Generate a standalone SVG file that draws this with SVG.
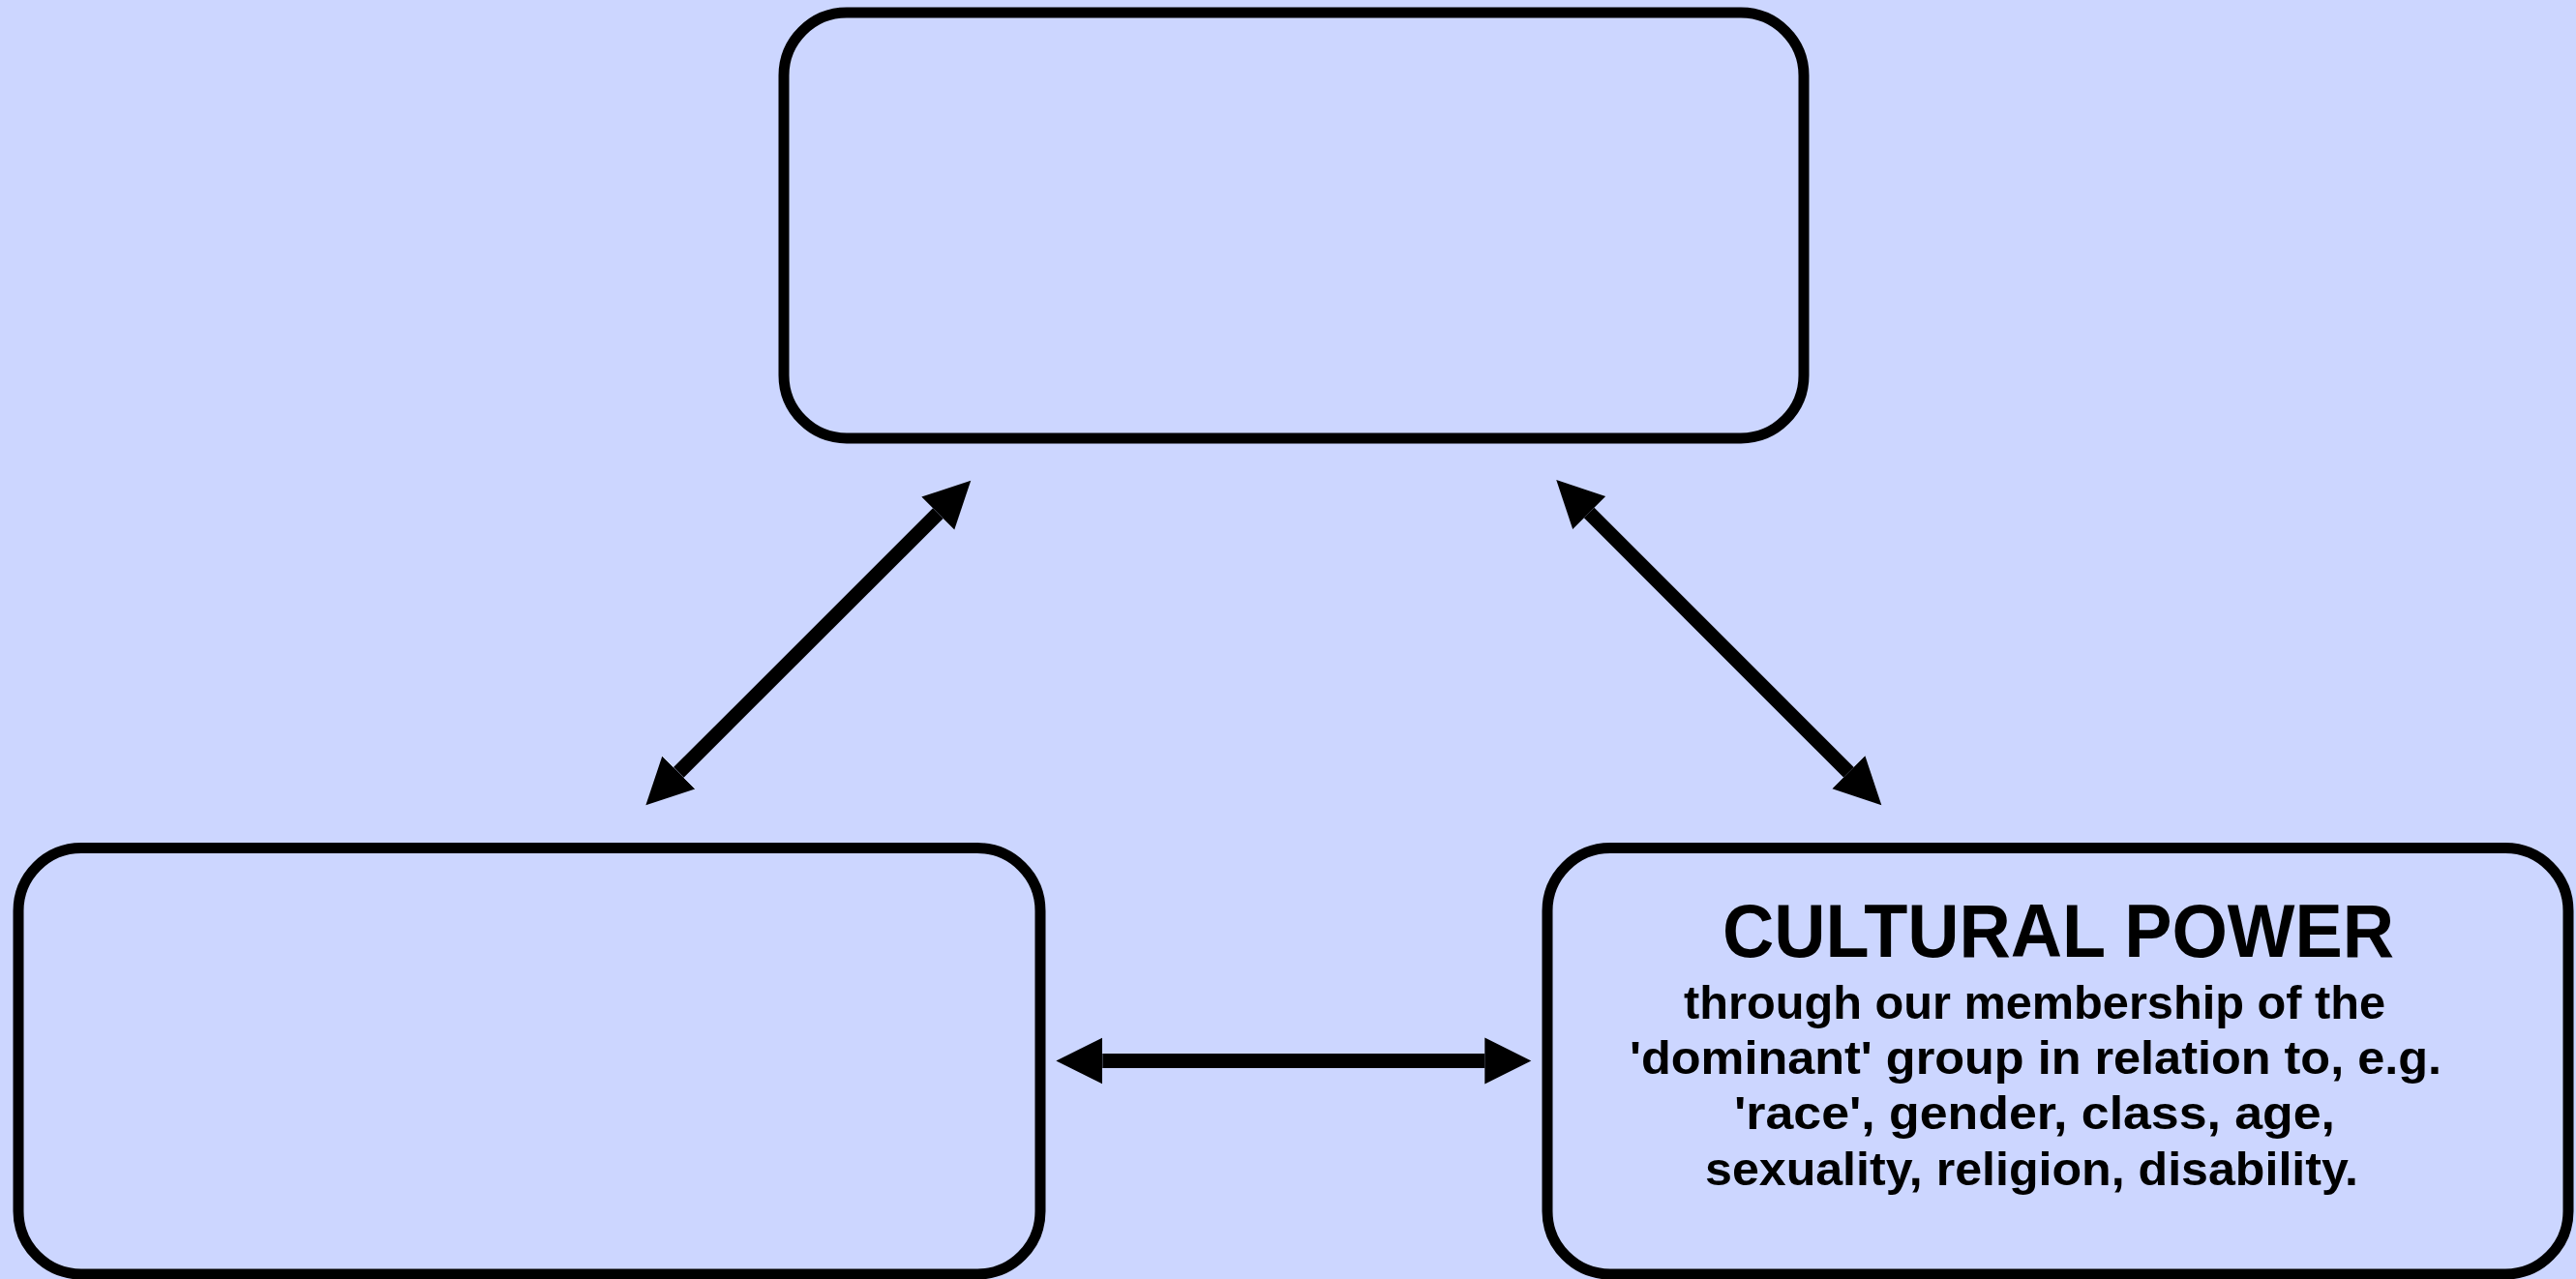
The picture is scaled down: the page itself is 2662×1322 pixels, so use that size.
<svg xmlns="http://www.w3.org/2000/svg" width="2662" height="1322" viewBox="0 0 2662 1322">
  <style>
    .box { fill: #CCD6FF; stroke: #000; stroke-width: 11; }
    .conn { fill: none; stroke: #000; stroke-width: 15; stroke-linecap: butt; }
    .title { font-family: "Comic Sans MS", "Liberation Sans", sans-serif; font-weight: bold; font-size: 78px; fill: #000; }
    .body { font-family: "Comic Sans MS", "Liberation Sans", sans-serif; font-weight: bold; font-size: 48px; fill: #000; }
  </style>
  <defs>
    <marker id="head" markerUnits="userSpaceOnUse" markerWidth="50" markerHeight="50" viewBox="0 -25 50 50" refX="0" refY="0" orient="auto-start-reverse">
      <path d="M0,-24 L48,0 L0,24 Z" fill="#000"/>
    </marker>
  </defs>
  <rect width="2662" height="1322" fill="#CCD6FF"/>

  <g id="node-top">
    <rect class="box" x="810" y="13" width="1054" height="440" rx="65" ry="65"/>
  </g>
  <g id="node-bottom-left">
    <rect class="box" x="19" y="876.5" width="1056" height="440.5" rx="65" ry="65"/>
  </g>
  <g id="node-cultural-power">
    <rect class="box" x="1599" y="876.5" width="1055" height="440.5" rx="65" ry="65"/>
    <text class="title" x="1780" y="989" textLength="694" lengthAdjust="spacingAndGlyphs">CULTURAL POWER</text>
    <text class="body" x="1740" y="1053" textLength="725" lengthAdjust="spacingAndGlyphs">through our membership of the</text>
    <text class="body" x="1684" y="1110" textLength="839" lengthAdjust="spacingAndGlyphs">'dominant' group in relation to, e.g.</text>
    <text class="body" x="1792" y="1167" textLength="621" lengthAdjust="spacingAndGlyphs">'race', gender, class, age,</text>
    <text class="body" x="1762" y="1225" textLength="675" lengthAdjust="spacingAndGlyphs">sexuality, religion, disability.</text>
  </g>

  <g id="connectors">
    <path class="conn" d="M701.3,798.4 L969.3,530.6" marker-start="url(#head)" marker-end="url(#head)"/>
    <path class="conn" d="M1642.2,530 L1910.4,798.3" marker-start="url(#head)" marker-end="url(#head)"/>
    <path class="conn" d="M1139.3,1096.5 L1534.3,1096.5" marker-start="url(#head)" marker-end="url(#head)"/>
  </g>
</svg>
